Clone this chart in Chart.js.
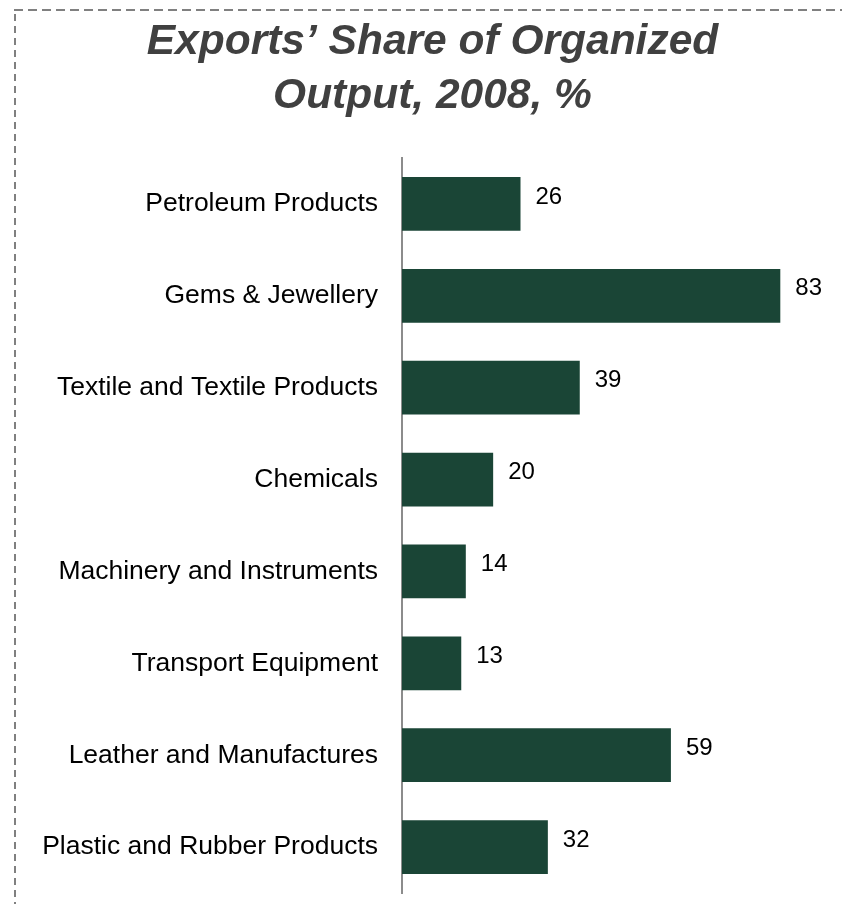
<!DOCTYPE html>
<html>
<head>
<meta charset="utf-8">
<title>Exports’ Share of Organized Output, 2008, %</title>
<script src="https://cdn.jsdelivr.net/npm/chart.js@4.4.1/dist/chart.umd.min.js"></script>
<style>
  html, body { margin: 0; padding: 0; background: #ffffff; }
  #wrap { position: relative; width: 842px; height: 904px; }
</style>
</head>
<body>
<div id="wrap"><canvas id="chart" width="842" height="904"></canvas></div>
<script>
// Sectors, top to bottom
const categories = [
  'Petroleum Products',
  'Gems & Jewellery',
  'Textile and Textile Products',
  'Chemicals',
  'Machinery and Instruments',
  'Transport Equipment',
  'Leather and Manufactures',
  'Plastic and Rubber Products'
];
// Exports as a share of organized output, %
const exportShare = [26, 83, 39, 20, 14, 13, 59, 32];
const titleLines = ['Exports’ Share of Organized', 'Output, 2008, %'];

const FONT = '"Liberation Sans", Arial, Helvetica, sans-serif';
const BAR_COLOR = '#1a4536';

// Dashed frame along the top and left edges
const framePlugin = {
  id: 'frame',
  beforeDraw(chart) {
    const ctx = chart.ctx;
    ctx.save();
    ctx.strokeStyle = '#808080';
    ctx.lineWidth = 2;
    ctx.setLineDash([9, 5]);
    ctx.beginPath();
    ctx.moveTo(14, 10);
    ctx.lineTo(chart.width, 10);
    ctx.stroke();
    ctx.setLineDash([7, 5]);
    ctx.beginPath();
    ctx.moveTo(15, 14);
    ctx.lineTo(15, chart.height);
    ctx.stroke();
    ctx.restore();
  }
};

// Value printed just past the end of each bar
const valueLabelPlugin = {
  id: 'valueLabels',
  afterDatasetsDraw(chart) {
    const ctx = chart.ctx;
    const meta = chart.getDatasetMeta(0);
    const values = chart.data.datasets[0].data;
    ctx.save();
    ctx.font = '24px ' + FONT;
    ctx.fillStyle = '#000000';
    ctx.textAlign = 'left';
    ctx.textBaseline = 'middle';
    meta.data.forEach((bar, i) => {
      ctx.fillText(String(values[i]), bar.x + 15, bar.y - 7);
    });
    ctx.restore();
  }
};

new Chart(document.getElementById('chart'), {
  type: 'bar',
  data: {
    labels: categories,
    datasets: [{
      data: exportShare,
      backgroundColor: BAR_COLOR,
      borderWidth: 0,
      categoryPercentage: 1,
      barPercentage: 0.585
    }]
  },
  options: {
    indexAxis: 'y',
    responsive: false,
    animation: false,
    layout: { padding: { left: 30, right: 7, top: 0, bottom: 11 } },
    plugins: {
      legend: { display: false },
      tooltip: { enabled: false },
      title: {
        display: true,
        text: titleLines,
        color: '#404040',
        font: { family: FONT, size: 42.5, weight: 'bold', style: 'italic', lineHeight: '54px' },
        padding: { top: 15.5, bottom: 34.5 }
      }
    },
    scales: {
      x: {
        display: false,
        min: 0,
        max: 95
      },
      y: {
        afterFit(scale) {
          scale.width = 372;
          scale.paddingTop = 0;
          scale.paddingBottom = 0;
        },
        grid: { display: false, drawTicks: false },
        border: { display: true, color: '#8c8c8c', width: 2 },
        ticks: {
          color: '#000000',
          padding: 24,
          font: { family: FONT, size: 26.5 }
        }
      }
    }
  },
  plugins: [framePlugin, valueLabelPlugin]
});
</script>
</body>
</html>
